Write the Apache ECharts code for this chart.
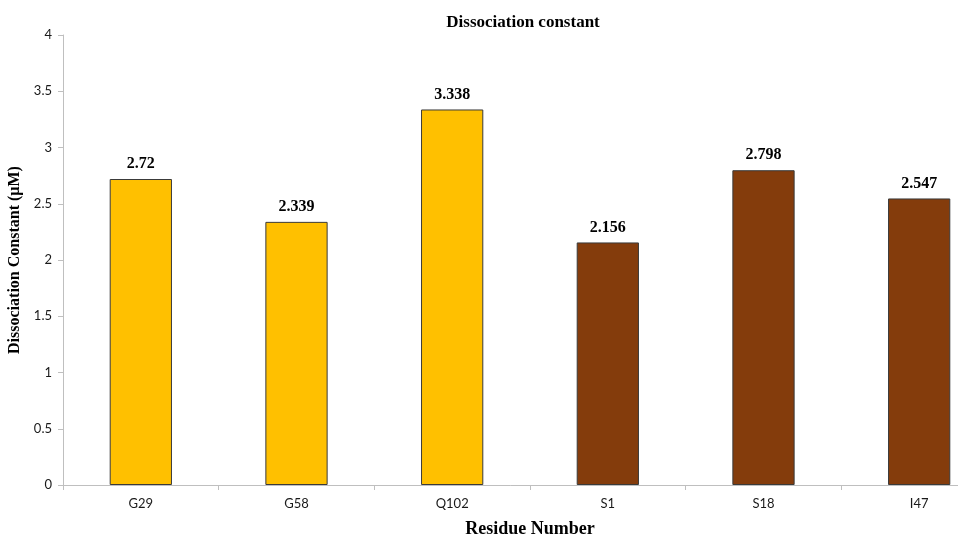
<!DOCTYPE html>
<html>
<head>
<meta charset="utf-8">
<script src="https://cdn.jsdelivr.net/npm/echarts@6/dist/echarts.min.js"></script>
<style>html,body{margin:0;padding:0;background:#fff}#c{width:958px;height:534px}</style>
</head>
<body>
<div id="c"></div>
<script>
// Residues and their dissociation constants (µM)
const residues = ['G29', 'G58', 'Q102', 'S1', 'S18', 'I47'];
const kdValues = [2.72, 2.339, 3.338, 2.156, 2.798, 2.547];
const barColors = ['#FFC000', '#FFC000', '#FFC000', '#843C0C', '#843C0C', '#843C0C'];
const yTicks = [0, 0.5, 1, 1.5, 2, 2.5, 3, 3.5, 4];

const chart = echarts.init(document.getElementById('c'));
chart.setOption({
  animation: false,
  title: {
    text: 'Dissociation constant',
    left: 518, top: 9, textAlign: 'center',
    textStyle: { fontFamily: 'Liberation Serif', fontWeight: 'bold', fontSize: 17, color: '#000' }
  },
  // plot runs past the right edge of the canvas
  grid: { left: 63, width: 934, top: 35, height: 450, containLabel: false, outerBoundsMode: 'none' },
  xAxis: {
    type: 'category',
    data: residues,
    name: 'Residue Number',
    nameLocation: 'middle',
    nameGap: 35,
    nameTextStyle: { fontFamily: 'Liberation Serif', fontWeight: 'bold', fontSize: 18, color: '#000' },
    axisLine: { lineStyle: { color: '#bfbfbf', width: 1 } },
    axisTick: { show: true, length: 5, lineStyle: { color: '#bfbfbf' } },
    axisLabel: { margin: 12, fontFamily: 'Lato', fontSize: 13, color: '#1a1a1a' }
  },
  yAxis: {
    type: 'value',
    min: 0, max: 4, interval: 0.5,
    name: 'Dissociation Constant (µM)',
    nameLocation: 'middle',
    nameGap: 36,
    nameTextStyle: { fontFamily: 'Liberation Serif', fontWeight: 'bold', fontSize: 16, color: '#000' },
    axisLine: { show: true, lineStyle: { color: '#bfbfbf', width: 1 } },
    axisTick: { show: true, length: 5, lineStyle: { color: '#bfbfbf' } },
    splitLine: { show: false },
    axisLabel: {
      margin: 11, fontFamily: 'Lato', fontSize: 13, color: '#1a1a1a',
      formatter: v => yTicks.includes(v) ? String(v) : ''
    }
  },
  series: [{
    type: 'bar',
    barWidth: '40%',
    data: kdValues.map((v, i) => ({
      value: v,
      itemStyle: { color: barColors[i], borderColor: '#3a3a3a', borderWidth: 1 }
    })),
    label: {
      show: true, position: 'top', distance: 7,
      fontFamily: 'Liberation Serif', fontWeight: 'bold', fontSize: 16, color: '#000',
      formatter: p => String(p.value)
    }
  }]
});
</script>
</body>
</html>
